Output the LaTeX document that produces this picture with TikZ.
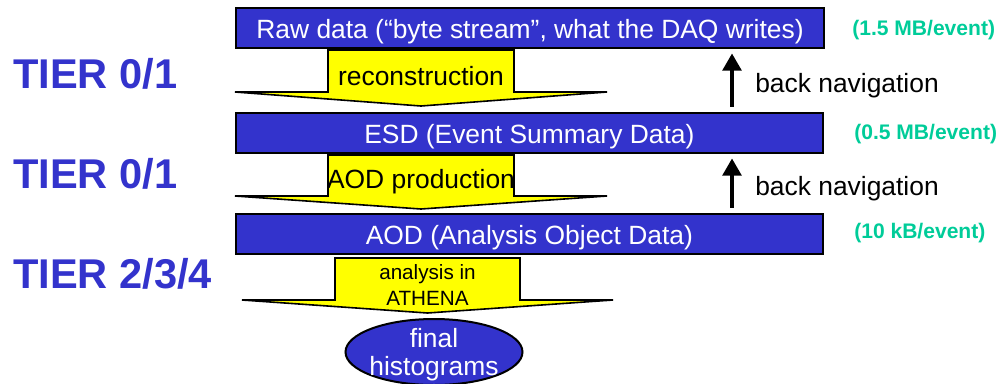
\documentclass[tikz,border=0pt]{standalone}
\usepackage{fontspec}
\setmainfont{Liberation Sans}
\usetikzlibrary{positioning,arrows.meta,shapes.geometric}
\definecolor{tierblue}{RGB}{51,51,204}
\definecolor{sizegreen}{RGB}{0,204,153}
\definecolor{procyellow}{RGB}{255,255,0}

\begin{document}
\begin{tikzpicture}[
	x=0.75pt, y=-0.75pt,
	every node/.style={font=\fontsize{19.8}{22}\selectfont, inner sep=0pt},
	databox/.style={draw, line width=1.5pt, fill=tierblue, text=white, anchor=north west, minimum width=440pt, text height=22.5pt, text depth=7.8pt},
	procarrow/.style={draw, line width=1.2pt, fill=procyellow, line join=miter},
	proclabel/.style={anchor=base, align=center},
	tier/.style={anchor=base west, text=tierblue, font=\fontsize{31.2}{36}\selectfont\bfseries},
	rate/.style={anchor=base west, text=sizegreen, font=\fontsize{15.8}{18}\selectfont\bfseries},
	back/.style={-{Triangle[length=13pt, width=14pt]}, line width=3pt, shorten <=4pt, shorten >=3pt},
	histo/.style={ellipse, draw, line width=1.5pt, fill=tierblue, minimum width=132.75pt, minimum height=49.5pt}
	]
	
	\useasboundingbox (0,0) rectangle (998,383);
	
	% processing steps
	\draw[procarrow] (328,50) -- (514,50) -- (514,92) -- (607,92) -- (421,106) -- (235,92) -- (328,92) -- cycle;
	\draw[procarrow] (328,155) -- (514,155) -- (514,196) -- (607,196) -- (421,209) -- (235,196) -- (328,196) -- cycle;
	\draw[procarrow] (335,258) -- (520,258) -- (520,300) -- (613,300) -- (427.5,313) -- (242,300) -- (335,300) -- cycle;
	
	\node[proclabel] (reco) at (421,85) {reconstruction};
	\node[proclabel] (aodprod) at (421,188) {AOD production};
	\node[proclabel, font=\fontsize{15.5}{19.5}\selectfont] (ana) at (427.5,305) {analysis in\\ATHENA};
	
	% data formats
	\node[databox, minimum width=441pt] (raw) at (235,7) {Raw data (“byte stream”, what the DAQ writes)};
	\node[databox] (esd) at (235,112) {ESD (Event Summary Data)};
	\node[databox] (aod) at (235,213) {AOD (Analysis Object Data)};
	
	\node[histo] (hist) at (434,352) {};
	\node[proclabel, text=white, font=\fontsize{19.8}{21}\selectfont] (histtext) at (434,375) {final\\histograms};
	
	% tiers
	\node[tier] (tierA) at (13,88) {TIER 0/1};
	\node[tier] (tierB) at (13,188) {TIER 0/1};
	\node[tier] (tierC) at (13,288) {TIER 2/3/4};
	
	% event sizes
	\node[rate] (rawsize) at (852,35.5) {(1.5 MB/event)};
	\node[rate] (esdsize) at (854,139.5) {(0.5 MB/event)};
	\node[rate] (aodsize) at (854,238.5) {(10 kB/event)};
	
	% back navigation
	\coordinate (nav) at (732,0);
	\draw[back] (esd.north -| nav) -- (raw.south -| nav);
	\draw[back] (aod.north -| nav) -- (esd.south -| nav);
	\node[anchor=base west] (backA) at (755,92) {back navigation};
	\node[anchor=base west] (backB) at (755,195) {back navigation};
	
\end{tikzpicture}
\end{document}
